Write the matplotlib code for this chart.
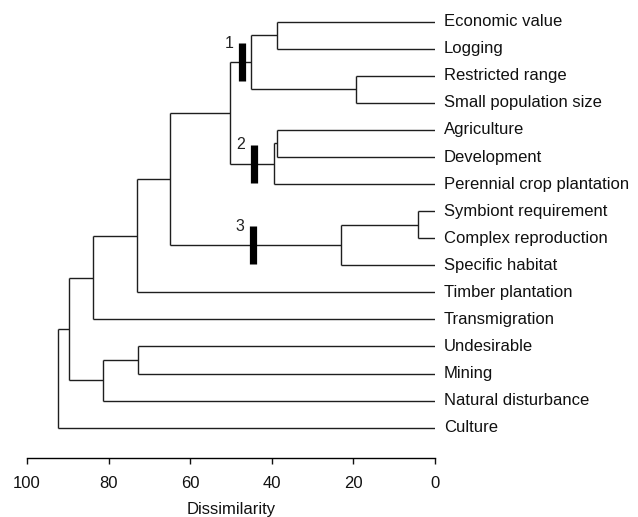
import matplotlib
matplotlib.use('Agg')
import matplotlib.pyplot as plt

plt.rcParams['font.family'] = ['Liberation Sans', 'DejaVu Sans']

# leaves, top to bottom
leaves = ['Economic value', 'Logging', 'Restricted range', 'Small population size',
          'Agriculture', 'Development', 'Perennial crop plantation',
          'Symbiont requirement', 'Complex reproduction', 'Specific habitat',
          'Timber plantation', 'Transmigration', 'Undesirable', 'Mining',
          'Natural disturbance', 'Culture']

# merges: (child a, child b, dissimilarity); new clusters numbered from 16
merge_a = [0, 2, 16, 4, 19, 18, 7, 22, 21, 24, 25, 12, 27, 26, 29]
merge_b = [1, 3, 17, 5, 6, 20, 8, 9, 23, 10, 11, 13, 14, 28, 15]
merge_h = [38.6, 19.2, 45.1, 38.8, 39.3, 50.1, 4.0, 23.1, 65.0, 73.1, 83.9,
           72.8, 81.3, 89.7, 92.3]

# marked groups: cluster id, position on branch, label
group_ids = [18, 20, 23]
group_x = [47.3, 44.4, 44.6]
group_labels = ['1', '2', '3']

fig = plt.figure(figsize=(6.38, 5.17), dpi=100)
ax = fig.add_axes([27 / 638, (517 - 458.3) / 517, (434.7 - 27) / 638, 458.3 / 517])

n = len(leaves)
ypos = {i: n - 1 - i for i in range(n)}
xpos = {i: 0.0 for i in range(n)}
lc = '#1e1e1e'
for k, (a, b, h) in enumerate(zip(merge_a, merge_b, merge_h)):
    ya, yb = ypos[a], ypos[b]
    ax.plot([xpos[a], h], [ya, ya], color=lc, lw=1.0, solid_capstyle='butt')
    ax.plot([xpos[b], h], [yb, yb], color=lc, lw=1.0, solid_capstyle='butt')
    ax.plot([h, h], [ya, yb], color=lc, lw=1.0, solid_capstyle='butt')
    ypos[n + k] = (ya + yb) / 2
    xpos[n + k] = h

for cid, gx, lab in zip(group_ids, group_x, group_labels):
    yc = ypos[cid]
    ax.plot([gx, gx], [yc - 0.7, yc + 0.7], color='black', lw=5.2,
            solid_capstyle='butt')
    ax.annotate(lab, (gx, yc + 0.7), xytext=(-6, 0), textcoords='offset points',
                ha='right', va='center', fontsize=11.5, color='#222')

for i, name in enumerate(leaves):
    ax.text(-2.2, ypos[i], name, ha='left', va='center', fontsize=12,
            color='#111', clip_on=False)

ax.set_xlim(100, 0)
ax.set_ylim(-1.13, 15.8)
ax.set_xticks([100, 80, 60, 40, 20, 0])
ax.tick_params(axis='x', direction='out', length=4, width=1, pad=8.5,
               labelsize=12, colors='#111')
ax.set_yticks([])
for s in ['top', 'right', 'left']:
    ax.spines[s].set_visible(False)
ax.spines['bottom'].set_linewidth(1.0)
ax.set_xlabel('Dissimilarity', fontsize=12, labelpad=8, color='#111')

fig.savefig('out.png', dpi=100)
